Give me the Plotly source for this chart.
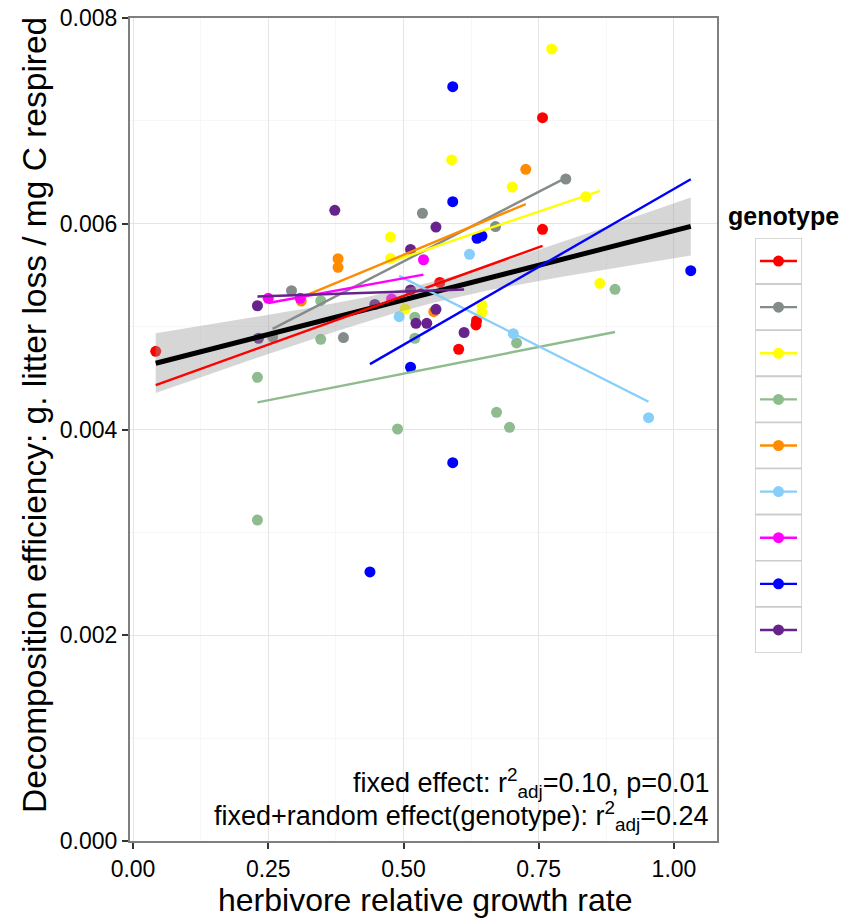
import numpy as np
import plotly.graph_objects as go

# Herbivore relative growth rate (x) and decomposition efficiency (y, g litter loss / mg C respired)
# one pair of lists per genotype, in legend order
rgr_red = [0.042, 0.567, 0.635, 0.634, 0.602, 0.757, 0.757]
eff_red = [0.00476, 0.00543, 0.005058, 0.005016, 0.00478, 0.005946, 0.007031]

rgr_grey = [0.258, 0.293, 0.389, 0.535, 0.670, 0.800]
eff_grey = [0.004899, 0.005349, 0.004894, 0.006102, 0.005973, 0.006435]

rgr_yellow = [0.476, 0.476, 0.503, 0.589, 0.645, 0.645, 0.701, 0.774, 0.837, 0.863]
eff_yellow = [0.005871, 0.005662, 0.005171, 0.00662, 0.00521, 0.005142, 0.006357, 0.007699, 0.006263, 0.005421]

rgr_green = [0.230, 0.230, 0.347, 0.347, 0.489, 0.521, 0.521, 0.672, 0.696, 0.709, 0.891]
eff_green = [0.00312, 0.004507, 0.005252, 0.004877, 0.004005, 0.005091, 0.004887, 0.004167, 0.004021, 0.004841, 0.005363]

rgr_orange = [0.311, 0.379, 0.379, 0.556, 0.726]
eff_orange = [0.005249, 0.00566, 0.005577, 0.005145, 0.006529]

rgr_skyblue = [0.492, 0.622, 0.703, 0.953]
eff_skyblue = [0.005097, 0.005703, 0.004931, 0.004115]

rgr_magenta = [0.250, 0.309, 0.478, 0.537]
eff_magenta = [0.005275, 0.005275, 0.005269, 0.005650]

rgr_blue = [0.438, 0.513, 0.591, 0.591, 0.591, 0.636, 0.645, 1.031]
eff_blue = [0.002615, 0.004605, 0.007332, 0.006214, 0.003677, 0.005859, 0.005881, 0.005544]

rgr_purple = [0.230, 0.232, 0.373, 0.447, 0.513, 0.513, 0.523, 0.543, 0.560, 0.560, 0.612]
eff_purple = [0.005203, 0.004887, 0.006131, 0.005215, 0.00575, 0.005356, 0.005032, 0.005032, 0.005968, 0.005168, 0.004943]

genotype_colors = ["#FF0000", "#838B8B", "#FFFF00", "#8FBC8F", "#FF8C00",
                   "#87CEFA", "#FF00FF", "#0000FF", "#68228B"]
groups = [(rgr_red, eff_red), (rgr_grey, eff_grey), (rgr_yellow, eff_yellow),
          (rgr_green, eff_green), (rgr_orange, eff_orange), (rgr_skyblue, eff_skyblue),
          (rgr_magenta, eff_magenta), (rgr_blue, eff_blue), (rgr_purple, eff_purple)]

x_ticks = [0.0, 0.25, 0.5, 0.75, 1.0]
x_ticktext = ["0.00", "0.25", "0.50", "0.75", "1.00"]
y_ticks = [0.0, 0.002, 0.004, 0.006, 0.008]
y_ticktext = ["0.000", "0.002", "0.004", "0.006", "0.008"]

stat_lines = ["fixed effect: r<sup>2</sup><sub>adj</sub>=0.10, p=0.01",
              "fixed+random effect(genotype): r<sup>2</sup><sub>adj</sub>=0.24"]

BAND_SE_MULT = 1.0  # half-width of the shaded band, in standard errors of the fit

FONT = "Liberation Sans, Arial, Helvetica, sans-serif"
W, H = 843, 921
ML, MR, MT, MB = 130, 30, 18, 80
PW, PH = W - ML - MR, H - MT - MB
MAIN_W = 587  # pixel width of the main panel


def px(xp):
    return (xp - ML) / PW


def py(yp):
    return (H - MB - yp) / PH


fig = go.Figure()

# points
for (gx, gy), col in zip(groups, genotype_colors):
    fig.add_trace(go.Scatter(x=gx, y=gy, mode="markers",
                             marker=dict(color=col, size=11, line=dict(width=0)),
                             hoverinfo="skip", showlegend=False))

# overall linear fit with shaded standard-error band
x_all = np.concatenate([np.asarray(g[0], float) for g in groups])
y_all = np.concatenate([np.asarray(g[1], float) for g in groups])
n = len(x_all)
slope, icpt = np.polyfit(x_all, y_all, 1)
resid = y_all - (icpt + slope * x_all)
s = np.sqrt(np.sum(resid ** 2) / (n - 2))
xbar = x_all.mean()
sxx = np.sum((x_all - xbar) ** 2)
xs = np.linspace(x_all.min(), x_all.max(), 80)
yhat = icpt + slope * xs
se = s * np.sqrt(1.0 / n + (xs - xbar) ** 2 / sxx)
upper = yhat + BAND_SE_MULT * se
lower = yhat - BAND_SE_MULT * se

fig.add_trace(go.Scatter(x=np.concatenate([xs, xs[::-1]]),
                         y=np.concatenate([upper, lower[::-1]]),
                         fill="toself", fillcolor="rgba(153,153,153,0.4)",
                         line=dict(width=0), mode="lines",
                         hoverinfo="skip", showlegend=False))
fig.add_trace(go.Scatter(x=xs, y=yhat, mode="lines",
                         line=dict(color="black", width=5),
                         hoverinfo="skip", showlegend=False))

# per-genotype linear fits
for (gx, gy), col in zip(groups, genotype_colors):
    gx = np.asarray(gx, float)
    gy = np.asarray(gy, float)
    b, a = np.polyfit(gx, gy, 1)
    xe = np.array([gx.min(), gx.max()])
    fig.add_trace(go.Scatter(x=xe, y=a + b * xe, mode="lines",
                             line=dict(color=col, width=2.4),
                             hoverinfo="skip", showlegend=False))

# legend keys drawn on their own small axes
n_keys = len(genotype_colors)
shapes = []
for i, col in enumerate(genotype_colors):
    yc = n_keys - i - 0.5
    shapes.append(dict(type="rect", xref="x2", yref="y2", x0=0, x1=1,
                       y0=yc - 0.5, y1=yc + 0.5, layer="below",
                       line=dict(color="#CCCCCC", width=1.6), fillcolor="white"))
    fig.add_trace(go.Scatter(x=[0.106, 0.894], y=[yc, yc], mode="lines",
                             line=dict(color=col, width=2.4), xaxis="x2", yaxis="y2",
                             hoverinfo="skip", showlegend=False))
    fig.add_trace(go.Scatter(x=[0.5], y=[yc], mode="markers",
                             marker=dict(color=col, size=11), xaxis="x2", yaxis="y2",
                             hoverinfo="skip", showlegend=False))

annotations = [
    dict(text="Decomposition efficiency: g. litter loss / mg C respired",
         x=px(34), y=py(415), xref="paper", yref="paper", textangle=-90,
         showarrow=False, xanchor="center", yanchor="middle",
         font=dict(size=33.5, color="black", family=FONT)),
    dict(text="herbivore relative growth rate", x=px(425), y=py(900),
         xref="paper", yref="paper", showarrow=False,
         xanchor="center", yanchor="middle",
         font=dict(size=32, color="black", family=FONT)),
    dict(text="<b>genotype</b>", x=px(726), y=py(216), xref="paper", yref="paper",
         showarrow=False, xanchor="left", yanchor="middle",
         font=dict(size=25, color="black", family=FONT)),
]
for line, yc in zip(stat_lines, [783, 816]):
    annotations.append(dict(text=line, x=px(711), y=py(yc), xref="paper", yref="paper",
                            showarrow=False, xanchor="right", yanchor="middle",
                            font=dict(size=27, color="black", family=FONT)))

key_top, key_bot = 238, 653
fig.update_layout(
    width=W, height=H, autosize=False,
    margin=dict(l=ML, r=MR, t=MT, b=MB, pad=0, autoexpand=False),
    paper_bgcolor="white", plot_bgcolor="white",
    font=dict(family=FONT, color="black"),
    showlegend=False,
    shapes=shapes,
    annotations=annotations,
    xaxis=dict(domain=[0, MAIN_W / PW], range=[-0.00555, 1.0795],
               tickvals=x_ticks, ticktext=x_ticktext,
               tickfont=dict(size=23, color="black", family=FONT),
               ticks="outside", ticklen=6, tickwidth=1.6, tickcolor="#333333",
               showgrid=True, gridcolor="#E5E5E5", gridwidth=1.4,
               minor=dict(dtick=0.125, tick0=0.125, showgrid=True,
                          gridcolor="#F7F7F7", gridwidth=1.4, ticks=""),
               showline=True, mirror=True, linecolor="#7F7F7F", linewidth=2,
               zeroline=False, fixedrange=True, automargin=False),
    yaxis=dict(range=[0, 0.008],
               tickvals=y_ticks, ticktext=y_ticktext,
               tickfont=dict(size=23, color="black", family=FONT),
               ticks="outside", ticklen=6, tickwidth=1.6, tickcolor="#333333",
               showgrid=True, gridcolor="#E5E5E5", gridwidth=1.4,
               minor=dict(dtick=0.001, tick0=0.001, showgrid=True,
                          gridcolor="#F7F7F7", gridwidth=1.4, ticks=""),
               showline=True, mirror=True, linecolor="#7F7F7F", linewidth=2,
               zeroline=False, fixedrange=True, automargin=False),
    xaxis2=dict(domain=[px(755), px(802)], range=[0, 1], anchor="y2",
                visible=False, fixedrange=True, automargin=False),
    yaxis2=dict(domain=[py(key_bot), py(key_top)], range=[0, n_keys], anchor="x2",
                visible=False, fixedrange=True, automargin=False),
)

fig.write_html("out.html")
